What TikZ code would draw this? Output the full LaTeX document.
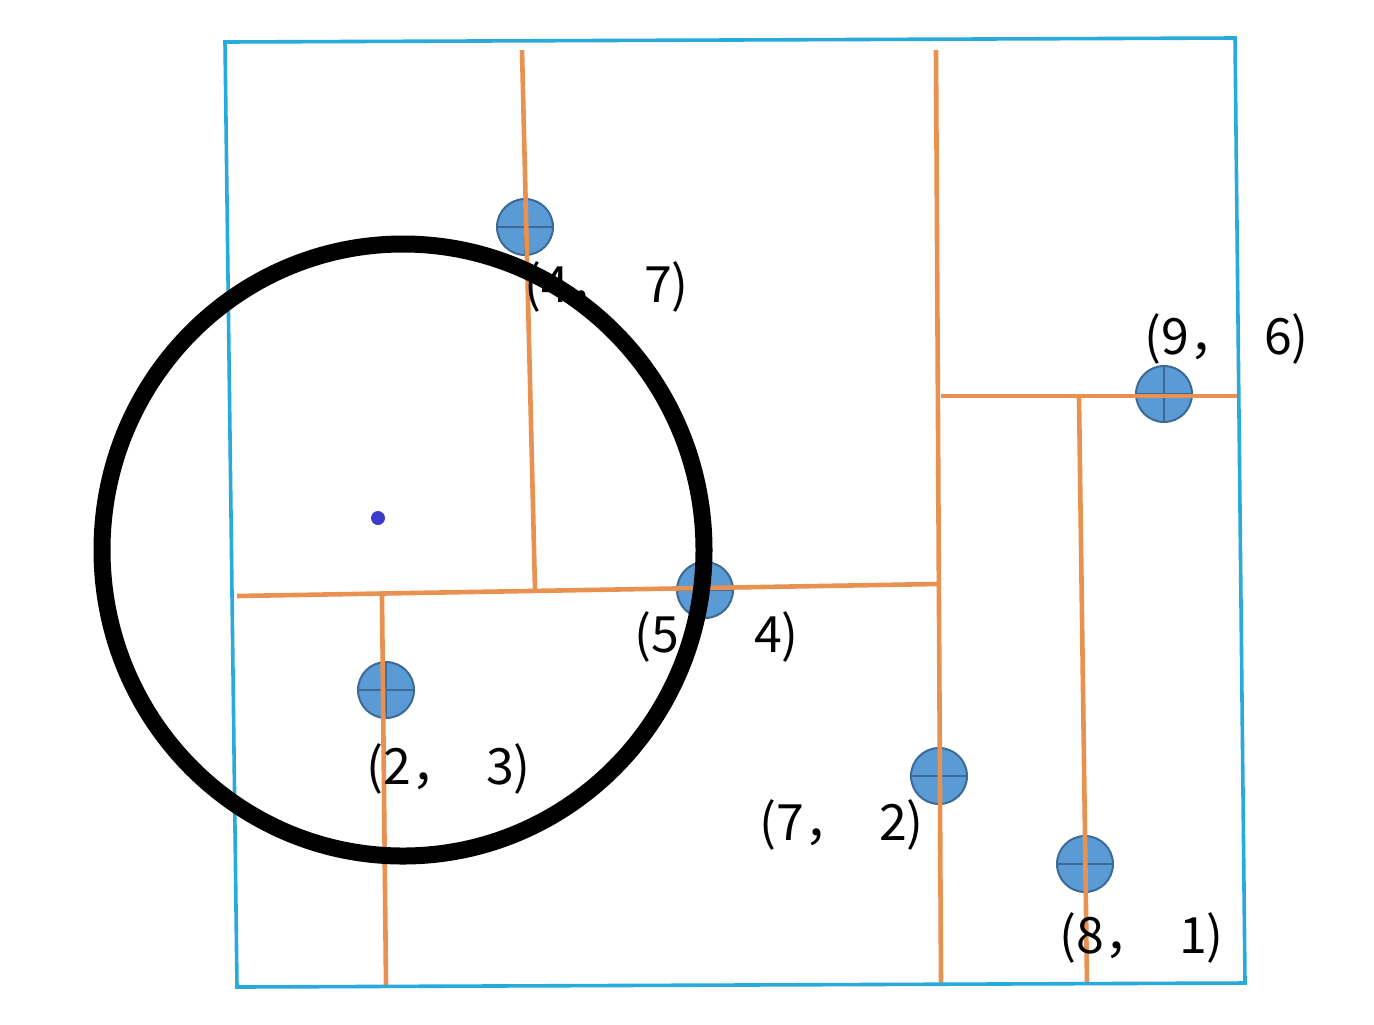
\documentclass[tikz,border=0pt]{standalone}
\usepackage{fontspec}
\newfontfamily\cjk{Noto Sans CJK SC}
\definecolor{framec}{RGB}{40,170,220}
\definecolor{splitc}{RGB}{232,145,80}
\definecolor{ptfill}{RGB}{91,155,213}
\definecolor{ptdraw}{RGB}{60,105,150}
\definecolor{dotc}{RGB}{60,60,200}
\begin{document}
\begin{tikzpicture}[x=0.5pt,y=-0.5pt,
  framebox/.style={draw=framec,line width=1.8pt},
  splitline/.style={draw=splitc,line width=2.3pt},
  kdpoint/.style={circle,fill=ptfill,draw=ptdraw,line width=1pt,minimum size=28pt,inner sep=0pt,
    path picture={\draw[ptdraw,line width=1pt] (path picture bounding box.north) -- (path picture bounding box.south)
      (path picture bounding box.west) -- (path picture bounding box.east);}},
  ptlabel/.style={font=\cjk\fontsize{25}{29}\selectfont,inner sep=0pt,anchor=west},
  searchcircle/.style={draw=black,line width=8.5pt}]
\useasboundingbox (0,0) rectangle (1374,1024);
% frame
\coordinate (f1) at (225,42);
\coordinate (f2) at (1235,38);
\coordinate (f3) at (1245,983);
\coordinate (f4) at (237,987);
% points
\node[kdpoint] (p47) at (525,227) {};
\node[kdpoint] (p54) at (705,590) {};
\node[kdpoint] (p23) at (386,690) {};
\node[kdpoint] (p72) at (939,776) {};
\node[kdpoint] (p81) at (1085,864) {};
\node[kdpoint] (p96) at (1164,394) {};
% split line ends
\coordinate (a1) at (522,50);
\coordinate (a2) at (535,590);
\coordinate (b1) at (237,596);
\coordinate (b2) at (937,584);
\coordinate (c1) at (382,596);
\coordinate (c2) at (386,985);
\coordinate (d1) at (936,50);
\coordinate (d2) at (941,985);
\coordinate (e1) at (941,396);
\coordinate (e2) at (1240,396);
\coordinate (g1) at (1079,398);
\coordinate (g2) at (1087,983);
\draw[splitline] (a1) -- (a2);
\draw[splitline] (b1) -- (b2);
\draw[splitline] (c1) -- (c2);
\draw[splitline] (d1) -- (d2);
\draw[splitline] (e1) -- (e2);
\draw[splitline] (g1) -- (g2);
\draw[framebox] (f1) -- (f2) -- (f3) -- (f4) -- cycle;
% labels
\node[ptlabel] (l47) at (524,287) {(4，\hspace{0.5em}7)};
\node[ptlabel] (l54) at (634,637) {(5，\hspace{0.5em}4)};
\node[ptlabel] (l23) at (366,769) {(2，\hspace{0.5em}3)};
\node[ptlabel] (l72) at (759,825) {(7，\hspace{0.5em}2)};
\node[ptlabel] (l81) at (1059,938) {(8，\hspace{0.5em}1)};
\node[ptlabel] (l96) at (1144,339) {(9，\hspace{0.5em}6)};
% query point and circle
\node[circle,fill=dotc,minimum size=7pt,inner sep=0pt] (q) at (378,518) {};
\draw[searchcircle] (403,550) ellipse [x radius=301, y radius=306];
\end{tikzpicture}
\end{document}
